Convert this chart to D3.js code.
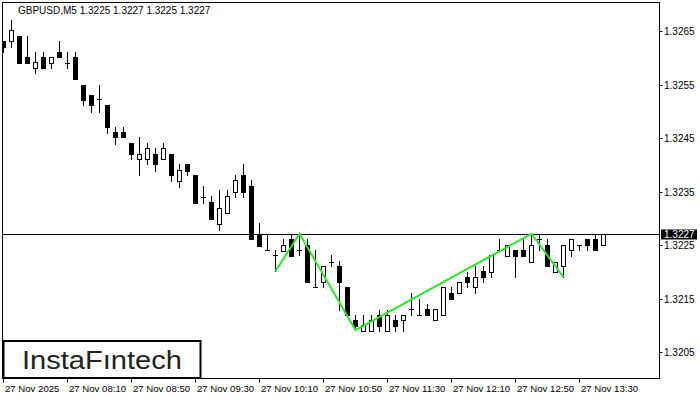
<!DOCTYPE html>
<html>
<head>
<meta charset="utf-8">
<script src="https://cdn.jsdelivr.net/npm/d3@7"></script>
<style>
  body { margin: 0; background: #fff; }
  svg { display: block; }
  text { font-family: "Liberation Sans", Arial, sans-serif; }
</style>
</head>
<body>
<div id="chart-area"></div>
<script>
// GBPUSD M5 candles, 27 Nov 2025, from 07:30
var opens  = [1.32631,1.32631,1.32641,1.32601,1.32580,1.32601,1.32591,1.32611,1.32591,1.32601,
              1.32550,1.32530,1.32522,1.32512,1.32461,1.32461,1.32440,1.32410,1.32410,1.32421,
              1.32410,1.32421,1.32370,1.32401,1.32381,1.32340,1.32331,1.32289,1.32310,1.32350,
              1.32381,1.32360,1.32270,1.32241,1.32231,1.32239,1.32261,1.32241,1.32250,1.32171,
              1.32180,1.32219,1.32211,1.32171,1.32110,1.32090,1.32090,1.32120,1.32090,1.32110,
              1.32110,1.32130,1.32120,1.32130,1.32110,1.32120,1.32160,1.32160,1.32190,1.32171,
              1.32201,1.32200,1.32241,1.32230,1.32241,1.32241,1.32219,1.32261,1.32250,1.32200,
              1.32211,1.32241,1.32250,1.32261,1.32261,1.32250];
var highs  = [1.32632,1.32671,1.32641,1.32641,1.32611,1.32611,1.32601,1.32631,1.32611,1.32611,
              1.32550,1.32530,1.32550,1.32512,1.32471,1.32471,1.32440,1.32452,1.32441,1.32431,
              1.32441,1.32421,1.32401,1.32401,1.32381,1.32360,1.32342,1.32352,1.32352,1.32381,
              1.32401,1.32372,1.32291,1.32270,1.32241,1.32261,1.32270,1.32270,1.32261,1.32241,
              1.32211,1.32231,1.32220,1.32171,1.32120,1.32120,1.32120,1.32129,1.32129,1.32120,
              1.32120,1.32160,1.32150,1.32140,1.32130,1.32171,1.32171,1.32180,1.32200,1.32210,
              1.32211,1.32231,1.32261,1.32250,1.32241,1.32261,1.32271,1.32271,1.32261,1.32219,
              1.32250,1.32261,1.32250,1.32261,1.32271,1.32271];
var lows   = [1.32611,1.32621,1.32591,1.32591,1.32571,1.32580,1.32580,1.32601,1.32580,1.32560,
              1.32512,1.32499,1.32499,1.32460,1.32439,1.32451,1.32410,1.32380,1.32401,1.32389,
              1.32410,1.32370,1.32359,1.32380,1.32329,1.32329,1.32299,1.32278,1.32310,1.32340,
              1.32340,1.32261,1.32248,1.32241,1.32201,1.32239,1.32230,1.32231,1.32180,1.32171,
              1.32171,1.32211,1.32129,1.32119,1.32091,1.32090,1.32090,1.32090,1.32090,1.32090,
              1.32090,1.32120,1.32120,1.32120,1.32110,1.32120,1.32149,1.32160,1.32171,1.32160,
              1.32180,1.32190,1.32241,1.32230,1.32190,1.32230,1.32219,1.32241,1.32211,1.32200,
              1.32190,1.32230,1.32241,1.32241,1.32241,1.32250];
var closes = [1.32620,1.32651,1.32591,1.32591,1.32592,1.32580,1.32601,1.32601,1.32591,1.32560,
              1.32521,1.32512,1.32522,1.32471,1.32451,1.32451,1.32421,1.32421,1.32431,1.32401,
              1.32431,1.32380,1.32390,1.32389,1.32329,1.32340,1.32299,1.32320,1.32342,1.32372,
              1.32350,1.32261,1.32248,1.32241,1.32231,1.32250,1.32230,1.32241,1.32180,1.32171,
              1.32211,1.32219,1.32180,1.32119,1.32099,1.32101,1.32110,1.32099,1.32120,1.32099,
              1.32120,1.32130,1.32120,1.32120,1.32130,1.32171,1.32149,1.32180,1.32180,1.32190,
              1.32190,1.32231,1.32241,1.32250,1.32230,1.32230,1.32250,1.32261,1.32211,1.32219,
              1.32250,1.32261,1.32250,1.32250,1.32241,1.32271];

// pattern (green) pivots: candle index and price
var patternIdx   = [34, 37, 44, 66, 70];
var patternPrice = [1.32201, 1.32271, 1.32091, 1.32271, 1.32190];

var priceTicks = [1.3205, 1.3215, 1.3225, 1.3235, 1.3245, 1.3255, 1.3265];
var timeTickIdx = [0, 8, 16, 24, 32, 40, 48, 56, 64, 72];
var timeLabels = ["27 Nov 2025", "27 Nov 08:10", "27 Nov 08:50", "27 Nov 09:30", "27 Nov 10:10",
                  "27 Nov 10:50", "27 Nov 11:30", "27 Nov 12:10", "27 Nov 12:50", "27 Nov 13:30"];
var lastPrice = 1.3227;
var title = "GBPUSD,M5  1.3225 1.3227 1.3225 1.3227";

var W = 700, H = 400;
var frame = { left: 2.5, top: 2.5, right: 659.5, bottom: 378.5 };

var svg = d3.select("#chart-area").append("svg")
    .attr("width", W).attr("height", H);

svg.append("defs").append("clipPath").attr("id", "plotclip")
  .append("rect")
    .attr("x", frame.left).attr("y", frame.top)
    .attr("width", frame.right - frame.left)
    .attr("height", frame.bottom - frame.top);

// scales
var x = d3.scaleLinear().domain([0, 82]).range([3, 659]);
var y = d3.scaleLinear().domain([1.3205, 1.3265]).range([352, 31]);

var plot = svg.append("g").attr("clip-path", "url(#plotclip)");

// current price line
var yLast = Math.round(y(lastPrice)) + 0.5;
plot.append("line")
    .attr("x1", frame.left).attr("x2", frame.right)
    .attr("y1", yLast).attr("y2", yLast)
    .attr("stroke", "#000").attr("stroke-width", 1);

// candles
var data = opens.map(function(o, i) {
    return { i: i, o: o, h: highs[i], l: lows[i], c: closes[i] };
});

var candles = plot.selectAll(".candle").data(data).enter()
  .append("g").attr("class", "candle");

candles.append("line")
    .attr("x1", function(d){ return Math.round(x(d.i)) + 0.5; })
    .attr("x2", function(d){ return Math.round(x(d.i)) + 0.5; })
    .attr("y1", function(d){ return Math.round(y(d.h)); })
    .attr("y2", function(d){ return Math.round(y(d.l)) + 1; })
    .attr("stroke", "#000").attr("stroke-width", 1);

candles.each(function(d) {
    var g = d3.select(this);
    var cx = Math.round(x(d.i));
    var yo = Math.round(y(d.o)), yc = Math.round(y(d.c));
    if (yo === yc) {
        g.append("line")
            .attr("x1", cx - 2).attr("x2", cx + 3)
            .attr("y1", yo + 0.5).attr("y2", yo + 0.5)
            .attr("stroke", "#000").attr("stroke-width", 1);
    } else {
        var top = Math.min(yo, yc), bot = Math.max(yo, yc);
        g.append("rect")
            .attr("x", cx - 1.5).attr("y", top + 0.5)
            .attr("width", 4).attr("height", bot - top)
            .attr("fill", d.c > d.o ? "#fff" : "#000")
            .attr("stroke", "#000").attr("stroke-width", 1);
    }
});

// pattern lines
var patternLine = d3.line()
    .x(function(d){ return x(d[0]) + 0.5; })
    .y(function(d){ return y(d[1]); });

plot.append("path")
    .attr("d", patternLine(patternIdx.map(function(v, k){ return [v, patternPrice[k]]; })))
    .attr("fill", "none")
    .attr("stroke", "#2ee62e")
    .attr("stroke-width", 2)
    .attr("stroke-linejoin", "miter");

// frame
svg.append("rect")
    .attr("x", frame.left).attr("y", frame.top)
    .attr("width", frame.right - frame.left)
    .attr("height", frame.bottom - frame.top)
    .attr("fill", "none").attr("stroke", "#000").attr("stroke-width", 1);

// right price axis
var yAxis = svg.append("g").attr("class", "y axis");
priceTicks.forEach(function(p) {
    var yy = Math.round(y(p)) + 0.5;
    yAxis.append("line")
        .attr("x1", frame.right).attr("x2", frame.right + 3)
        .attr("y1", yy).attr("y2", yy)
        .attr("stroke", "#000");
    yAxis.append("text")
        .attr("x", 664).attr("y", yy + 3.5)
        .attr("font-size", "10px").attr("fill", "#000")
        .text(p.toFixed(4));
});

// last price marker
svg.append("rect")
    .attr("x", 661).attr("y", yLast - 5)
    .attr("width", 36).attr("height", 10)
    .attr("fill", "#000");
svg.append("text")
    .attr("x", 664).attr("y", yLast + 3.5)
    .attr("font-size", "10px").attr("fill", "#fff")
    .text(lastPrice.toFixed(4));

// bottom time axis
var xAxis = svg.append("g").attr("class", "x axis");
timeTickIdx.forEach(function(idx, k) {
    var xx = Math.round(x(idx)) + 0.5;
    xAxis.append("line")
        .attr("x1", xx).attr("x2", xx)
        .attr("y1", frame.bottom).attr("y2", frame.bottom + 4)
        .attr("stroke", "#000");
    xAxis.append("text")
        .attr("x", xx + 1.5).attr("y", 392)
        .attr("font-size", "9.6px").attr("fill", "#000")
        .text(timeLabels[k]);
});

// title
svg.append("text")
    .attr("x", 18).attr("y", 14)
    .attr("font-size", "10px").attr("fill", "#000")
    .text(title);

// logo
svg.append("rect")
    .attr("x", 3.5).attr("y", 341)
    .attr("width", 197).attr("height", 37)
    .attr("fill", "#fff").attr("stroke", "#000").attr("stroke-width", 2);
svg.append("text")
    .attr("x", 22).attr("y", 369)
    .attr("font-family", "Lato, 'Noto Sans', sans-serif")
    .attr("font-size", "26px").attr("font-weight", 500)
    .attr("fill", "#222")
    .attr("textLength", 160).attr("lengthAdjust", "spacingAndGlyphs")
    .text("InstaFıntech");
</script>
</body>
</html>
